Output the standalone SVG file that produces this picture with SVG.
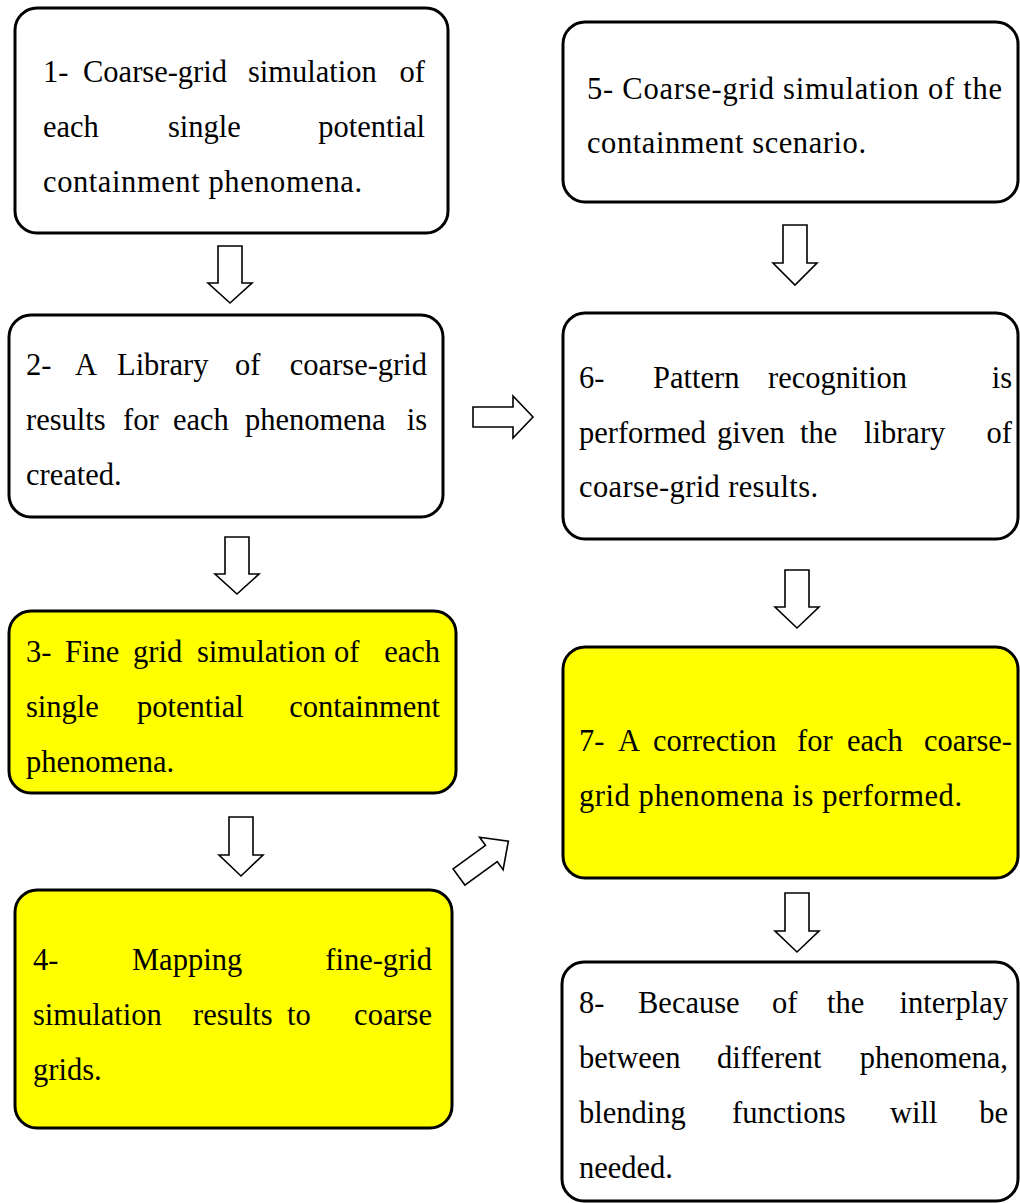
<svg xmlns="http://www.w3.org/2000/svg" width="1020" height="1203" viewBox="0 0 1020 1203">
  <style>
    .box { fill: #ffffff; stroke: #000000; stroke-width: 3; }
    .hl { fill: #ffff00; }
    .arrow { fill: #ffffff; stroke: #000000; stroke-width: 1.6; stroke-linejoin: miter; }
    .lbl text { font-family: "Liberation Serif", "Times New Roman", Times, serif; font-size: 30.5px; fill: #000000; }
    .r { text-anchor: end; }
  </style>

  <g class="lbl">
  <!-- process steps, left column -->
  <g id="step1">
    <rect class="box" x="15" y="8" width="433" height="225" rx="22"/>
    <text x="43" y="82">1-</text><text x="83" y="82">Coarse-grid</text><text x="248" y="82">simulation</text><text class="r" x="425" y="82">of</text>
    <text x="43" y="137">each</text><text x="168" y="137">single</text><text class="r" x="425" y="137">potential</text>
    <text x="43" y="192" textLength="319" lengthAdjust="spacing">containment phenomena.</text>
  </g>

  <g id="step2">
    <rect class="box" x="9" y="315" width="434" height="202" rx="22"/>
    <text x="26" y="375">2-</text><text x="75" y="375">A</text><text x="117" y="375">Library</text><text x="235" y="375">of</text><text class="r" x="427" y="375">coarse-grid</text>
    <text x="26" y="430">results</text><text x="123" y="430">for</text><text x="173" y="430">each</text><text x="245" y="430">phenomena</text><text class="r" x="427" y="430">is</text>
    <text x="26" y="485">created.</text>
  </g>

  <g id="step3">
    <rect class="box hl" x="9" y="611" width="447" height="182" rx="22"/>
    <text x="26" y="662">3-</text><text x="65" y="662">Fine</text><text x="133" y="662">grid</text><text x="197" y="662">simulation</text><text x="334" y="662">of</text><text class="r" x="440" y="662">each</text>
    <text x="26" y="717">single</text><text x="137" y="717">potential</text><text class="r" x="440" y="717">containment</text>
    <text x="26" y="772">phenomena.</text>
  </g>

  <g id="step4">
    <rect class="box hl" x="15" y="890" width="437" height="238" rx="22"/>
    <text x="33" y="970">4-</text><text x="132" y="970">Mapping</text><text class="r" x="432" y="970">fine-grid</text>
    <text x="33" y="1025">simulation</text><text x="193" y="1025">results</text><text x="287" y="1025">to</text><text class="r" x="432" y="1025">coarse</text>
    <text x="33" y="1080">grids.</text>
  </g>

  <!-- process steps, right column -->
  <g id="step5">
    <rect class="box" x="563" y="22" width="455" height="180" rx="22"/>
    <text x="587" y="99" textLength="415" lengthAdjust="spacing">5- Coarse-grid simulation of the</text>
    <text x="587" y="153" textLength="279" lengthAdjust="spacing">containment scenario.</text>
  </g>

  <g id="step6">
    <rect class="box" x="563" y="313" width="455" height="226" rx="22"/>
    <text x="579" y="388">6-</text><text x="653" y="388">Pattern</text><text x="768" y="388">recognition</text><text class="r" x="1012" y="388">is</text>
    <text x="579" y="443">performed</text><text x="717" y="443">given</text><text x="800" y="443">the</text><text x="864" y="443">library</text><text class="r" x="1012" y="443">of</text>
    <text x="579" y="497" textLength="239" lengthAdjust="spacing">coarse-grid results.</text>
  </g>

  <g id="step7">
    <rect class="box hl" x="563" y="647" width="455" height="231" rx="22"/>
    <text x="579" y="751">7-</text><text x="618" y="751">A</text><text x="653" y="751">correction</text><text x="797" y="751">for</text><text x="847" y="751">each</text><text class="r" x="1012" y="751">coarse-</text>
    <text x="579" y="806" textLength="383" lengthAdjust="spacing">grid phenomena is performed.</text>
  </g>

  <g id="step8">
    <rect class="box" x="562" y="962" width="456" height="239" rx="22"/>
    <text x="579" y="1013">8-</text><text x="638" y="1013">Because</text><text x="772" y="1013">of</text><text x="827" y="1013">the</text><text class="r" x="1008" y="1013">interplay</text>
    <text x="579" y="1068">between</text><text x="717" y="1068">different</text><text class="r" x="1008" y="1068">phenomena,</text>
    <text x="579" y="1123">blending</text><text x="732" y="1123">functions</text><text x="890" y="1123">will</text><text class="r" x="1008" y="1123">be</text>
    <text x="579" y="1178">needed.</text>
  </g>
  </g>

  <!-- block arrows between steps -->
  <g id="connectors">
    <!-- 1 to 2 -->
    <path class="arrow" d="M218,246 H242 V283 H252 L230,303 L208,283 H218 Z"/>
    <!-- 2 to 3 -->
    <path class="arrow" d="M225,537 H249 V574 H259 L237,594 L215,574 H225 Z"/>
    <!-- 3 to 4 -->
    <path class="arrow" d="M229,817 H253 V855 H263 L241,876 L219,855 H229 Z"/>
    <!-- 2 to 6 -->
    <path class="arrow" d="M473,407 H513 V396 L533,417 L513,438 V427 H473 Z"/>
    <!-- 4 to 7 -->
    <path class="arrow" transform="translate(459,877) rotate(-36)" d="M0,-10 H40 V-20 L61,0 L40,20 V10 H0 Z"/>
    <!-- 5 to 6 -->
    <path class="arrow" d="M783,225 H807 V263 H817 L795,285 L773,263 H783 Z"/>
    <!-- 6 to 7 -->
    <path class="arrow" d="M785,570 H809 V607 H819 L797,628 L775,607 H785 Z"/>
    <!-- 7 to 8 -->
    <path class="arrow" d="M785,893 H809 V931 H819 L797,952 L775,931 H785 Z"/>
  </g>
</svg>
